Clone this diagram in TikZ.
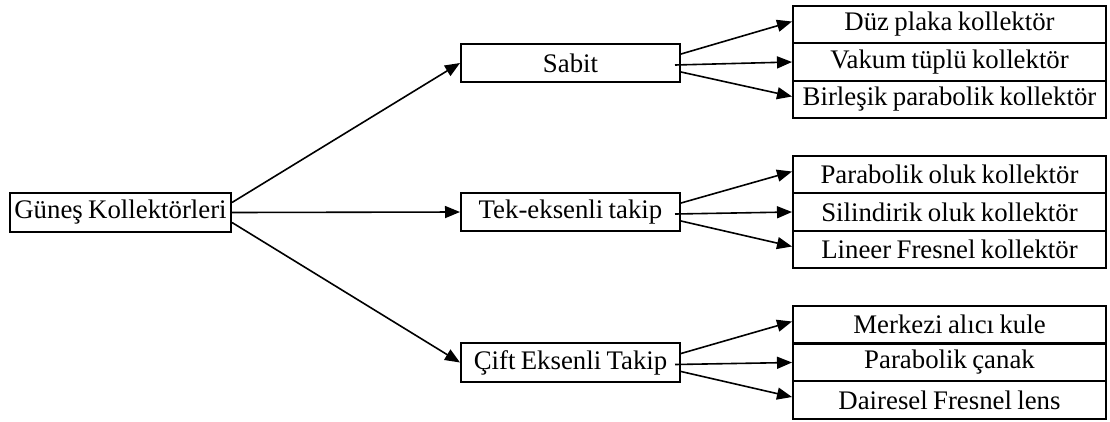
\documentclass[tikz,border=0pt]{standalone}
\usepackage{fontspec}
\setmainfont{Liberation Serif}
\usetikzlibrary{arrows.meta,calc}
\newcommand{\myboxfont}{\fontsize{26.8}{29}\selectfont\spaceskip=0.2em plus 0.05em\relax}
\begin{document}
\begin{tikzpicture}[x=1pt,y=-1pt,
  box/.style={draw=black,line width=2pt,fill=white,inner sep=0pt,anchor=center,
    font=\myboxfont},
  midbox/.style={box,minimum width=219pt,minimum height=38pt},
  rowbox/.style={box,minimum width=313pt,minimum height=37.5pt},
  arr/.style={-{Triangle[length=15pt,width=12pt]},line width=1.6pt}]
\useasboundingbox (0,0) rectangle (1110,421);
\node[box,minimum width=221pt,minimum height=39pt] (g) at (120.5,212.5) {Güneş Kollektörleri};
\node[midbox] (s) at (570.5,63) {Sabit};
\node[midbox] (t) at (570.5,212) {Tek-eksenli takip};
\node[midbox,minimum height=39pt] (c) at (570.5,362.5) {Çift Eksenli Takip};
\node[rowbox] (a1) at (949.5,24.5) {Düz plaka kollektör};
\node[rowbox] (a2) at (949.5,62) {Vakum tüplü kollektör};
\node[rowbox] (a3) at (949.5,99.5) {Birleşik parabolik kollektör};
\node[rowbox] (b1) at (949.5,174.5) {Parabolik oluk kollektör};
\node[rowbox] (b2) at (949.5,212) {Silindirik oluk kollektör};
\node[rowbox] (b3) at (949.5,249.5) {Lineer Fresnel kollektör};
\node[rowbox] (c1) at (949.5,324.5) {Merkezi alıcı kule};
\node[rowbox] (c2) at (949.5,362.5) {Parabolik çanak};
\node[rowbox] (c3) at (949.5,400) {Dairesel Fresnel lens};
\draw[arr] ($(g.east)+(0,-10)$) -- (s.west);
\draw[arr] (g.east) -- (t.west);
\draw[arr] ($(g.east)+(0,10)$) -- (c.west);
\foreach \m/\p in {s/a,t/b,c/c}{
  \draw[arr] ($(\m.east)+(0,-9)$) -- ($(\p1.west)+(0,-3)$);
  \draw[arr] ($(\m.east)+(-6,2)$) -- (\p2.west);
  \draw[arr] ($(\m.east)+(0,9)$) -- ($(\p3.west)+(0,-3)$);
}
\end{tikzpicture}
\end{document}
